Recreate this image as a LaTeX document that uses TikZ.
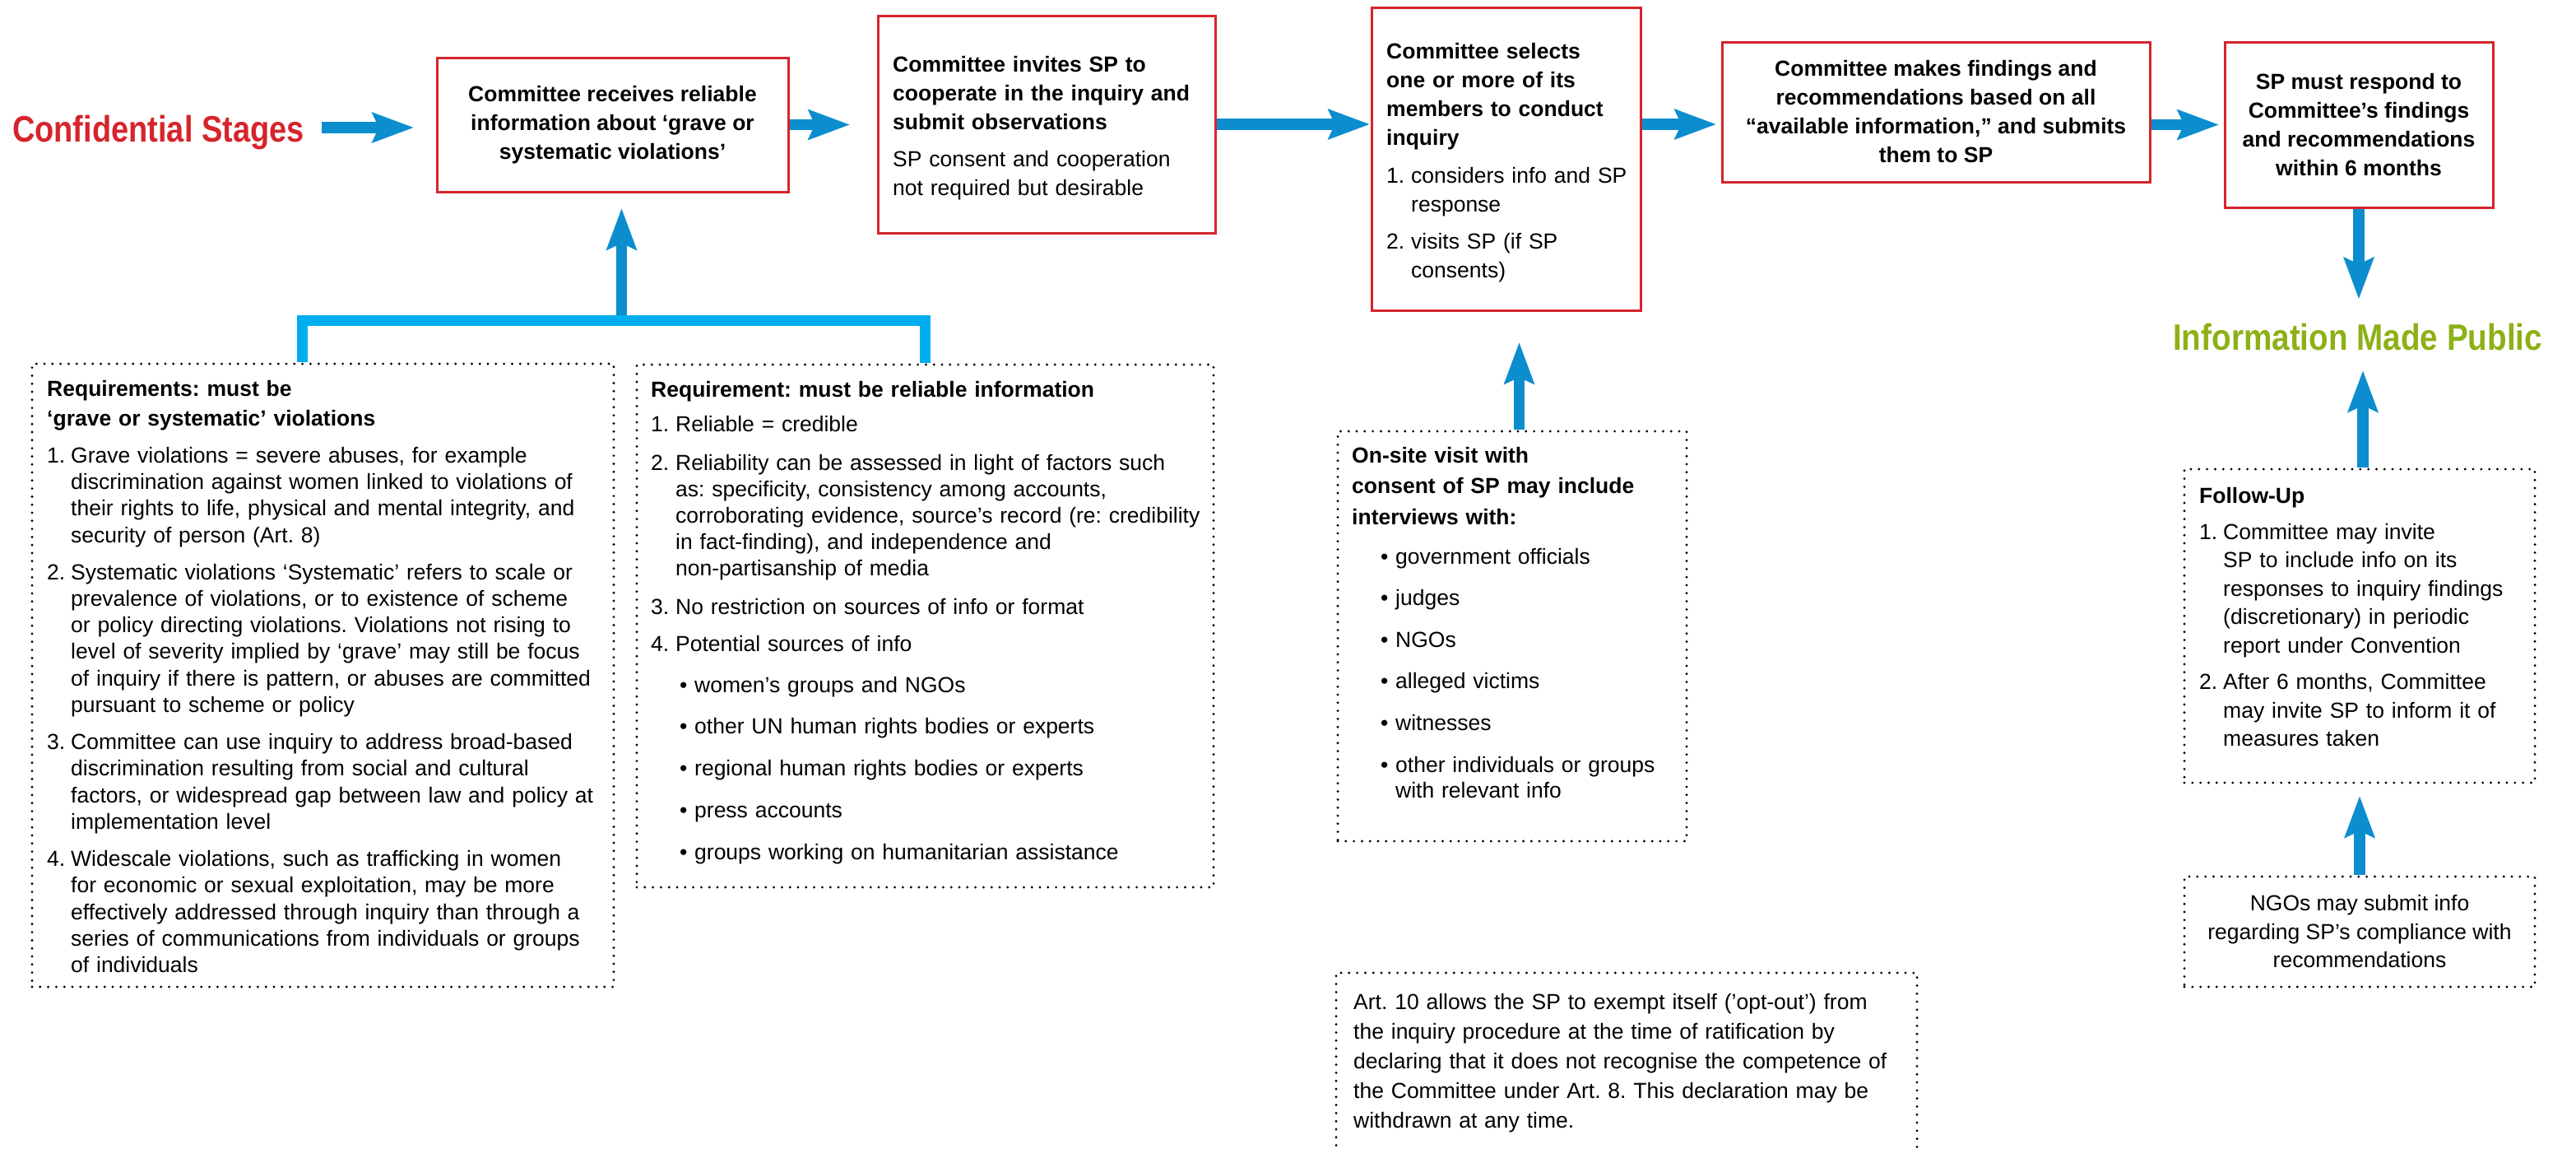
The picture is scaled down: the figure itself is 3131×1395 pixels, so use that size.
\documentclass[tikz,border=0pt]{standalone}
\usepackage{fontspec}
\setmainfont{Liberation Sans}
\usepackage{graphicx}
\usetikzlibrary{arrows.meta,calc}
\frenchspacing
\definecolor{cred}{RGB}{213,36,44}
\definecolor{cblue}{RGB}{12,142,206}
\definecolor{ccyan}{RGB}{0,174,239}
\definecolor{cgreen}{RGB}{140,177,22}
\newcommand\fbody[1]{\fontsize{26.5}{#1}\selectfont\parindent=0pt\parskip=0pt\frenchspacing\relax}
\newcommand\numitem[2][29pt]{\hangindent=#1\relax\hangafter=1\relax\noindent\makebox[#1][l]{#2}\ignorespaces}
\newcommand\bulitem{\hangindent=53pt\relax\hangafter=1\relax\noindent\hspace*{35pt}\makebox[18pt][l]{•}\ignorespaces}
\begin{document}
\begin{tikzpicture}[x=1pt,y=-1pt,
  redbox/.style={draw=cred, line width=3pt, inner sep=0pt},
  dotbox/.style={draw=black, line width=3.2pt, dash pattern=on 0pt off 9.8pt, line cap=round, inner sep=0pt},
  arr/.style={draw=cblue, line width=13.5pt, -{Stealth[length=51pt,width=38pt,inset=9pt,line width=0pt]}},
  brk/.style={draw=ccyan, line width=13pt, line join=miter},
  txt/.style={anchor=north west, inner sep=0pt, align=left, text width=#1},
  rb/.style={font=\fontsize{26.5}{35}\selectfont\bfseries\frenchspacing, align=center},
  head/.style={inner sep=0pt, font=\fontsize{44.7}{50}\selectfont\bfseries}
]
\useasboundingbox (0,0) rectangle (3131,1395);

% red process boxes
\node[redbox, minimum width=427pt, minimum height=163pt, rb] (b1) at (744.5,151.5)
  {Committee receives reliable\\information about ‘grave or\\systematic violations’};
\node[redbox, minimum width=410pt, minimum height=264pt] (b2) at (1272,151) {};
\node[redbox, minimum width=327pt, minimum height=368pt] (b3) at (1830.5,193) {};
\node[redbox, minimum width=520pt, minimum height=170pt, rb] (b4) at (2353,136)
  {Committee makes findings and\\recommendations based on all\\“available information,” and submits\\them to SP};
\node[redbox, minimum width=326pt, minimum height=201pt, rb] (b5) at (2867,151.5)
  {SP must respond to\\Committee’s findings\\and recommendations\\within 6 months};

\node[txt=380, font=\fbody{35}] (t2) at (1085,67.7)
  {{\bfseries Committee invites SP to\\cooperate in the inquiry and\\submit observations\par}\vspace{10pt}SP consent and cooperation\\not required but desirable};
\node[txt=300, font=\fbody{35}] (t3) at (1685,51.7)
  {{\bfseries Committee selects\\one or more of its\\members to conduct\\inquiry\par}\vspace{11pt}\numitem[30pt]{1.}considers info and SP\newline response\par\vspace{10pt}\numitem[30pt]{2.}visits SP (if SP\newline consents)\par};

% headings
\node[head, anchor=base east, text=cred] (conf) at (370,172) {\scalebox{0.85}[1]{Confidential Stages}};
\node[head, anchor=base west, text=cgreen] (pub) at (2641,425) {\scalebox{0.865}[1]{Information Made Public}};

% dotted boxes
\node[dotbox, minimum width=707pt, minimum height=757pt] (lbox) at (392.5,820.5) {};
\node[dotbox, minimum width=701pt, minimum height=635pt] (mbox) at (1124.5,760.5) {};
\node[dotbox, minimum width=424pt, minimum height=498pt] (obox) at (1838,773) {};
\node[dotbox, minimum width=706pt, minimum height=260pt] (abox) at (1977,1312) {};
\node[dotbox, minimum width=426pt, minimum height=381pt] (fbox) at (2868,760.5) {};
\node[dotbox, minimum width=426pt, minimum height=134pt, align=center, font=\fbody{34.5}] (nbox) at (2868,1132)
  {NGOs may submit info\\regarding SP’s compliance with\\recommendations};

\node[txt=690, font=\fbody{32.3}] (tl) at (57,461.7)
  {{\bfseries\fontsize{26.5}{36}\selectfont Requirements: must be\\‘grave or systematic’ violations\par}\vspace{12.7pt}
   \numitem{1.}Grave violations = severe abuses, for example\newline discrimination against women linked to violations of\newline their rights to life, physical and mental integrity, and\newline security of person (Art. 8)\par\vspace{12.7pt}
   \numitem{2.}Systematic violations ‘Systematic’ refers to scale or\newline prevalence of violations, or to existence of scheme\newline or policy directing violations. Violations not rising to\newline level of severity implied by ‘grave’ may still be focus\newline of inquiry if there is pattern, or abuses are committed\newline pursuant to scheme or policy\par\vspace{12.7pt}
   \numitem{3.}Committee can use inquiry to address broad-based\newline discrimination resulting from social and cultural\newline factors, or widespread gap between law and policy at\newline implementation level\par\vspace{12.7pt}
   \numitem{4.}Widescale violations, such as trafficking in women\newline for economic or sexual exploitation, may be more\newline effectively addressed through inquiry than through a\newline series of communications from individuals or groups\newline of individuals\par};

\node[txt=680, font=\fbody{32}] (tm) at (791,462.7)
  {{\bfseries Requirement: must be reliable information\par}\vspace{10pt}
   \numitem[30pt]{1.}Reliable = credible\par\vspace{15pt}
   \numitem[30pt]{2.}Reliability can be assessed in light of factors such\newline as: specificity, consistency among accounts,\newline corroborating evidence, source’s record (re: credibility\newline in fact-finding), and independence and\newline non-partisanship of media\par\vspace{15pt}
   \numitem[30pt]{3.}No restriction on sources of info or format\par\vspace{13pt}
   \numitem[30pt]{4.}Potential sources of info\par\vspace{18pt}
   \bulitem women’s groups and NGOs\par\vspace{18.75pt}
   \bulitem other UN human rights bodies or experts\par\vspace{18.75pt}
   \bulitem regional human rights bodies or experts\par\vspace{18.75pt}
   \bulitem press accounts\par\vspace{18.75pt}
   \bulitem groups working on humanitarian assistance\par};

\node[txt=400, font=\fbody{31.5}] (to) at (1643,542.7)
  {{\bfseries\fontsize{26.5}{37.5}\selectfont On-site visit with\\consent of SP may include\\interviews with:\par}\vspace{16.5pt}
   \bulitem government officials\par\vspace{19.1pt}
   \bulitem judges\par\vspace{19.1pt}
   \bulitem NGOs\par\vspace{19.1pt}
   \bulitem alleged victims\par\vspace{19.1pt}
   \bulitem witnesses\par\vspace{19.1pt}
   \bulitem other individuals or groups\newline with relevant info\par};

\node[txt=690, font=\fbody{36}] (t10) at (1645,1206.7)
  {Art. 10 allows the SP to exempt itself (’opt-out’) from\\the inquiry procedure at the time of ratification by\\declaring that it does not recognise the competence of\\the Committee under Art. 8. This declaration may be\\withdrawn at any time.};

\node[txt=400, font=\fbody{34.6}] (tf) at (2673,591.7)
  {{\bfseries Follow-Up\par}\vspace{9.4pt}
   \numitem{1.}Committee may invite\newline SP to include info on its\newline responses to inquiry findings\newline (discretionary) in periodic\newline report under Convention\par\vspace{9.4pt}
   \numitem{2.}After 6 months, Committee\newline may invite SP to inform it of\newline measures taken\par};

% arrows
\coordinate (a1) at (391,155);
\draw[arr, shorten >=27pt] (a1) -- (a1 -| b1.west);
\draw[arr, shorten >=33pt] (b1.east) -- (b1.east -| b2.west);
\draw[arr, shorten >=1pt] (b2.east) -- (b2.east -| b3.west);
\draw[arr, shorten >=6pt] (b3.east |- b2.east) -- (b2.east -| b4.west);
\draw[arr, shorten >=6pt] (b4.east |- b5.west) -- (b5.west);
\draw[arr, shorten >=29.5pt] (b5.south) -- (b5.south |- pub.north);
\draw[arr, shorten >=25pt] ($(fbox.north)+(4,0)$) -- ($(fbox.north |- pub.south)+(4,0)$);
\draw[arr, shorten >=15pt] (nbox.north) -- (fbox.south);
\draw[arr, shorten >=38pt] ($(obox.north)+(8.5,0)$) -- ($(obox.north |- b3.south)+(8.5,0)$);
\coordinate (kb) at (755.5,389.5);
\draw[arr, shorten >=19pt] (kb) -- (kb |- b1.south);
\draw[brk] ($(lbox.north)+(-25,0)$) |- (kb) -| (mbox.north);
\end{tikzpicture}
\end{document}
